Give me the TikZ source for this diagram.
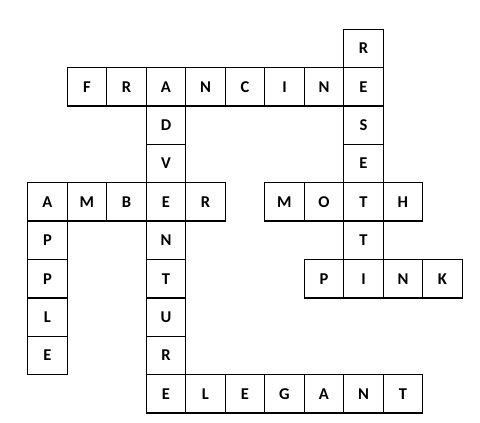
\documentclass[tikz,border=0pt]{standalone}
\usepackage{fontspec}
\setmainfont{Carlito}
\begin{document}
\begin{tikzpicture}[x=1pt,y=1pt,
  cell/.style={draw=black,line width=1.3pt,rectangle,minimum width=39.5pt,minimum height=38.37pt,inner sep=0pt,font=\fontsize{16.5}{16.5}\selectfont\bfseries,text=black}]
\useasboundingbox (0,0) rectangle (480,423);
\foreach \r/\c/\l in {0/8/R,
  1/1/F,1/2/R,1/3/A,1/4/N,1/5/C,1/6/I,1/7/N,1/8/E,
  2/3/D,2/8/S,
  3/3/V,3/8/E,
  4/0/A,4/1/M,4/2/B,4/3/E,4/4/R,4/6/M,4/7/O,4/8/T,4/9/H,
  5/0/P,5/3/N,5/8/T,
  6/0/P,6/3/T,6/7/P,6/8/I,6/9/N,6/10/K,
  7/0/L,7/3/U,
  8/0/E,8/3/R,
  9/3/E,9/4/L,9/5/E,9/6/G,9/7/A,9/8/N,9/9/T}
{
  \node[cell] (c\r-\c) at ({27.7+39.5*(\c+0.5)},{423-29.3-38.37*(\r+0.5)}) {\l};
}
\end{tikzpicture}
\end{document}
